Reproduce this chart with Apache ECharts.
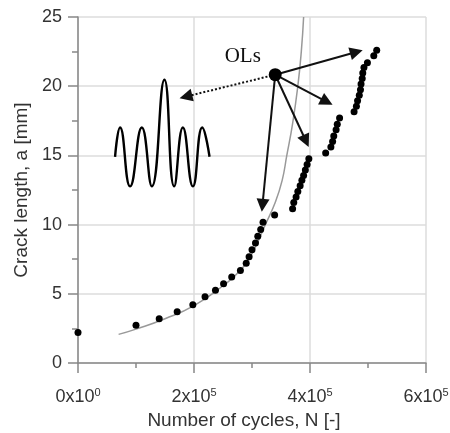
<!DOCTYPE html>
<html>
<head>
<meta charset="utf-8">
<script src="https://cdn.jsdelivr.net/npm/echarts@6/dist/echarts.min.js"></script>
<style>
  html, body { margin: 0; padding: 0; background: #fff; }
  #chart { width: 450px; height: 433px; }
</style>
</head>
<body>
<div id="chart"></div>
<script>
// measured crack length vs cycles
const cycles = [0, 1.00e5, 1.40e5, 1.71e5, 1.98e5, 2.19e5, 2.37e5, 2.51e5, 2.65e5, 2.80e5, 2.90e5, 2.95e5, 3.00e5, 3.06e5, 3.10e5, 3.15e5, 3.19e5, 3.39e5,
  3.70e5, 3.72e5, 3.76e5, 3.79e5, 3.83e5, 3.86e5, 3.89e5, 3.92e5, 3.95e5, 3.98e5,
  4.27e5, 4.36e5, 4.39e5, 4.41e5, 4.45e5, 4.47e5, 4.51e5,
  4.76e5, 4.80e5, 4.82e5, 4.85e5, 4.87e5, 4.88e5, 4.90e5, 4.91e5, 4.93e5, 4.99e5, 5.10e5, 5.15e5];
const crack = [2.2, 2.72, 3.2, 3.71, 4.21, 4.78, 5.25, 5.73, 6.21, 6.69, 7.2, 7.67, 8.19, 8.67, 9.15, 9.65, 10.17, 10.69,
  11.15, 11.6, 12.0, 12.4, 12.8, 13.2, 13.55, 13.95, 14.35, 14.75,
  15.17, 15.6, 16.0, 16.4, 16.85, 17.25, 17.7,
  18.15, 18.55, 18.95, 19.35, 19.75, 20.15, 20.55, 20.95, 21.35, 21.7, 22.2, 22.6];

// prediction curve (gray)
const curveN = [0.70e5, 1.00e5, 1.50e5, 2.00e5, 2.50e5, 2.80e5, 3.00e5, 3.23e5, 3.40e5, 3.52e5, 3.60e5, 3.70e5, 3.79e5, 3.85e5, 3.89e5];
const curveA = [2.07, 2.45, 3.2, 4.15, 5.58, 6.7, 7.9, 10.0, 11.6, 13.2, 15.0, 17.3, 20.0, 22.5, 25.0];

// overload signal sketch
const waveN = [0.639e5, 0.725e5, 0.898e5, 1.100e5, 1.273e5, 1.490e5, 1.658e5, 1.808e5, 1.981e5, 2.142e5, 2.268e5];
const waveA = [14.9, 17.02, 12.76, 17.02, 12.76, 20.47, 12.76, 17.02, 12.76, 17.02, 14.9];

// OLs marker and arrows
const olPoint = [3.40e5, 20.83];
const olLabel = 'OLs';
const arrowEnds = [[4.80e5, 22.47], [4.29e5, 18.87], [3.93e5, 16.04], [3.18e5, 11.39]];
const dottedEnd = [1.86e5, 19.25];

// axis ticks
const xTicks = [0, 2e5, 4e5, 6e5];
const xMant = ['0', '2', '4', '6'];
const xExp = ['0', '5', '5', '5'];

const chart = echarts.init(document.getElementById('chart'));

const font = '"Liberation Sans", Arial, sans-serif';

const option = {
  animation: false,
  grid: { left: 78, top: 17, right: 24, bottom: 70, outerBoundsMode: 'none' },
  xAxis: {
    type: 'value',
    min: 0,
    max: 6e5,
    interval: 2e5,
    name: 'Number of cycles, N [-]',
    nameLocation: 'middle',
    nameGap: 46,
    nameTextStyle: { fontFamily: font, fontSize: 19, color: '#333', padding: [0, 16, 0, 0] },
    axisLine: { lineStyle: { color: '#888', width: 1.5 } },
    axisTick: { show: true, length: 10, lineStyle: { color: '#888', width: 1.5 } },
    minorTick: { show: true, splitNumber: 2, length: 5, lineStyle: { color: '#888', width: 1.5 } },
    splitLine: { show: true, lineStyle: { color: '#ddd', width: 1.5 } },
    axisLabel: {
      margin: 24,
      formatter: function (v) {
        const i = xTicks.indexOf(v);
        return '{m|' + xMant[i] + 'x10}{e|' + xExp[i] + '}';
      },
      rich: {
        m: { fontFamily: font, fontSize: 18, color: '#333', lineHeight: 20 },
        e: { fontFamily: font, fontSize: 11, color: '#333', lineHeight: 20, verticalAlign: 'top', padding: [0, 0, 8, 0] }
      }
    }
  },
  yAxis: {
    type: 'value',
    min: 0,
    max: 25,
    interval: 5,
    name: 'Crack length, a [mm]',
    nameLocation: 'middle',
    nameGap: 47,
    nameTextStyle: { fontFamily: font, fontSize: 19, color: '#333' },
    axisLine: { show: true, lineStyle: { color: '#888', width: 1.5 } },
    axisTick: { show: true, length: 10, lineStyle: { color: '#888', width: 1.5 } },
    minorTick: { show: true, splitNumber: 2, length: 6, lineStyle: { color: '#888', width: 1.5 } },
    splitLine: { show: true, lineStyle: { color: '#ddd', width: 1.5 } },
    axisLabel: { margin: 16, fontFamily: font, fontSize: 18, color: '#333' }
  },
  series: [
    {
      type: 'line',
      data: curveN.map((n, i) => [n, curveA[i]]),
      smooth: true,
      showSymbol: false,
      lineStyle: { color: '#999', width: 1.5 },
      z: 2
    },
    {
      type: 'scatter',
      data: cycles.map((n, i) => [n, crack[i]]),
      symbolSize: 7,
      itemStyle: { color: '#000', opacity: 1 },
      z: 3
    },
    {
      type: 'line',
      data: waveN.map((n, i) => [n, waveA[i]]),
      smooth: true,
      showSymbol: false,
      lineStyle: { color: '#000', width: 2.4 },
      z: 3
    },
    {
      type: 'lines',
      coordinateSystem: 'cartesian2d',
      data: arrowEnds.map(e => ({ coords: [olPoint, e] })),
      symbol: ['none', 'triangle'],
      symbolSize: [10, 13],
      lineStyle: { color: '#111', width: 2, opacity: 1 },
      z: 4
    },
    {
      type: 'lines',
      coordinateSystem: 'cartesian2d',
      data: [{ coords: [olPoint, dottedEnd] }],
      symbol: ['none', 'triangle'],
      symbolSize: [10, 13],
      lineStyle: { color: '#111', width: 2, type: [2, 2], opacity: 1 },
      z: 4
    },
    {
      type: 'scatter',
      data: [olPoint],
      symbolSize: 13,
      itemStyle: { color: '#000', opacity: 1 },
      label: {
        show: true,
        formatter: olLabel,
        position: [-44, -22],
        fontFamily: '"Liberation Serif", "Times New Roman", serif',
        fontSize: 21,
        color: '#111'
      },
      z: 5
    }
  ]
};

chart.setOption(option);
</script>
</body>
</html>
